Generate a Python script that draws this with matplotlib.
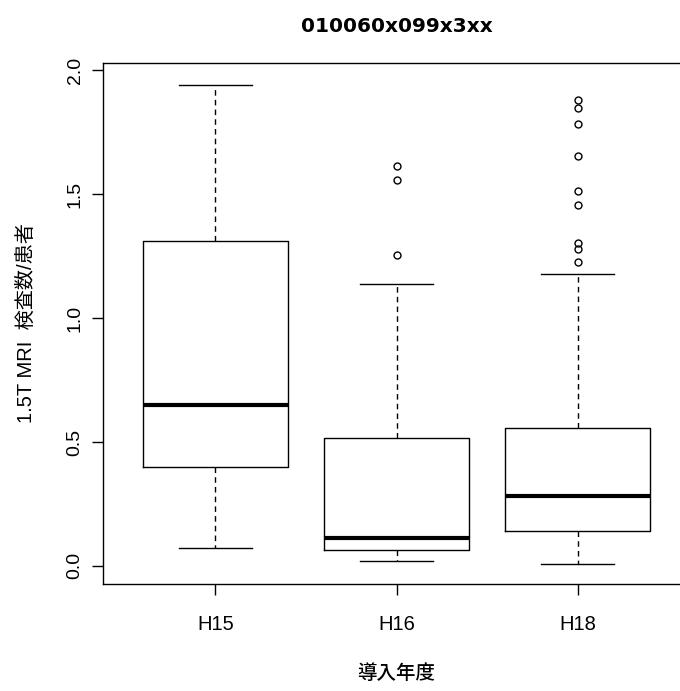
import matplotlib
matplotlib.use("Agg")
import matplotlib.pyplot as plt

# 値は図から読み取った推定値
years = ["H15", "H16", "H18"]
whislo = [0.073, 0.02, 0.008]
q1 = [0.40, 0.065, 0.141]
med = [0.65, 0.113, 0.282]
q3 = [1.31, 0.516, 0.556]
whishi = [1.94, 1.137, 1.177]
fliers = [
    [],
    [1.254, 1.556, 1.613],
    [1.224, 1.277, 1.304, 1.456, 1.513, 1.653, 1.781, 1.846, 1.879],
]

title = "010060x099x3xx"
ylabel = "1.5T MRI  検査数/患者"
xlabel = "導入年度"

JP = ["Liberation Sans", "Noto Sans CJK JP"]

fig = plt.figure(figsize=(6.8, 6.91), dpi=100)
ax = fig.add_axes([0.1515, 0.1548, 0.8632, 0.754])

stats = []
for i, name in enumerate(years):
    stats.append(
        {
            "label": name,
            "whislo": whislo[i],
            "q1": q1[i],
            "med": med[i],
            "q3": q3[i],
            "whishi": whishi[i],
            "fliers": fliers[i],
        }
    )

ax.bxp(
    stats,
    positions=[1, 2, 3],
    widths=0.8,
    showfliers=True,
    boxprops=dict(color="black", linewidth=1.0),
    medianprops=dict(color="black", linewidth=3.0, solid_capstyle="butt"),
    whiskerprops=dict(color="black", linewidth=1.0, linestyle=(0, (4, 3))),
    capprops=dict(color="black", linewidth=1.0),
    capwidths=0.4,
    flierprops=dict(marker="o", markerfacecolor="none", markeredgecolor="black",
                    markersize=5, markeredgewidth=1.0, linestyle="none"),
)

ax.set_xlim(0.38, 3.62)
ax.set_ylim(-0.073, 2.028)
ax.set_yticks([0.0, 0.5, 1.0, 1.5, 2.0])
ax.set_yticklabels(["0.0", "0.5", "1.0", "1.5", "2.0"], rotation=90, va="center",
                   family=JP, fontsize=14)
ax.set_xticks([1, 2, 3])
ax.set_xticklabels(years, family=JP, fontsize=14.5)
ax.tick_params(axis="both", direction="out", length=8, width=1.0, color="black")
ax.tick_params(axis="y", pad=6)
ax.tick_params(axis="x", pad=14)

for side in ax.spines.values():
    side.set_linewidth(1.0)
    side.set_color("black")

ax.set_title(title, family="DejaVu Sans", fontweight="bold", fontsize=14.5, pad=22)
ax.set_ylabel(ylabel, family=JP, fontsize=14.5, labelpad=22)
ax.set_xlabel(xlabel, family=["Noto Sans CJK JP"], fontsize=14, fontweight="medium",
              labelpad=22)

fig.savefig("out.png", dpi=100)
